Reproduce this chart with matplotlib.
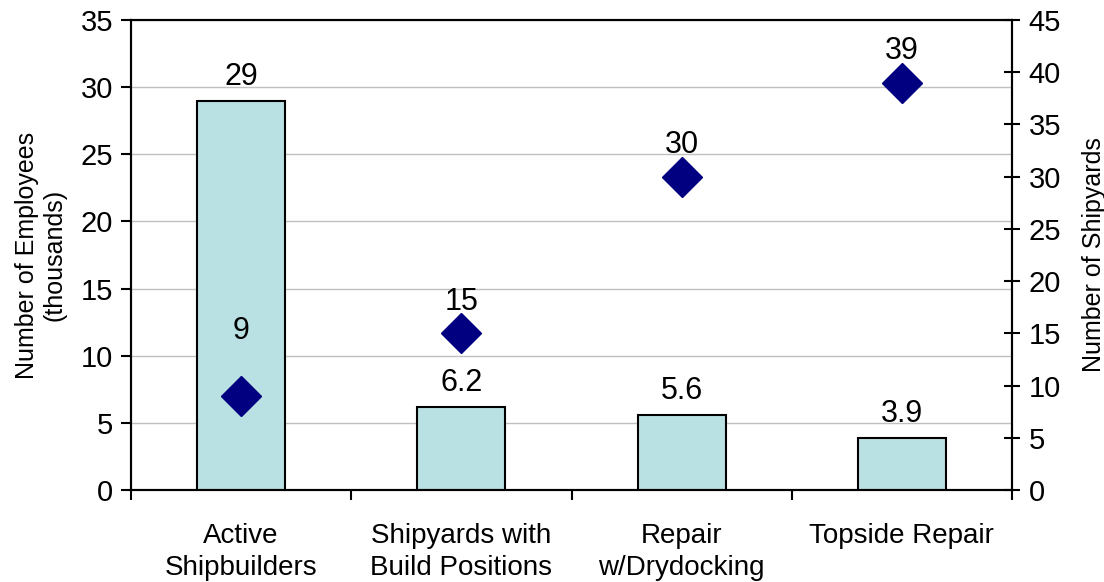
import matplotlib.pyplot as plt
import numpy as np

plt.rcParams['font.family'] = ['Liberation Sans', 'DejaVu Sans']

categories = ['Active\nShipbuilders', 'Shipyards with\nBuild Positions',
              'Repair\nw/Drydocking', 'Topside Repair']
employees = [29, 6.2, 5.6, 3.9]      # thousands, left axis
shipyards = [9, 15, 30, 39]          # count, right axis
emp_labels = ['29', '6.2', '5.6', '3.9']
yard_labels = ['9', '15', '30', '39']

fig = plt.figure(figsize=(11.04, 5.82), dpi=100)
ax = fig.add_axes([131/1104, 92/582, 881/1104, 470/582])
ax2 = ax.twinx()

x = np.arange(len(categories))
ax.bar(x, employees, width=0.4, color='#b9e0e3', edgecolor='black',
       linewidth=1.5, zorder=3)
for xi, v, lab in zip(x, employees, emp_labels):
    ax.annotate(lab, (xi, v), xytext=(0, 6), textcoords='offset points',
                ha='center', va='bottom', fontsize=22)

ax2.plot(x, shipyards, linestyle='none', marker='D', markersize=20,
         color='#000080', zorder=4)
for xi, v, lab in zip(x, shipyards, yard_labels):
    off = 36 if lab == '9' else 12
    ax2.annotate(lab, (xi, v), xytext=(0, off), textcoords='offset points',
                 ha='center', va='bottom', fontsize=22)

ax.set_xlim(-0.5, len(categories) - 0.5)
ax.set_ylim(0, 35)
ax.set_yticks(np.arange(0, 36, 5))
ax2.set_ylim(0, 45)
ax2.set_yticks(np.arange(0, 46, 5))

ax.yaxis.grid(True, color='#c0c0c0', linewidth=1)
ax.set_axisbelow(True)

ax.set_xticks(x)
ax.set_xticklabels(categories, fontsize=20, linespacing=1.3)
ax.set_xticks(np.arange(-0.5, len(categories), 1), minor=True)
ax.tick_params(axis='x', which='major', length=0, pad=24)
ax.tick_params(axis='x', which='minor', length=7, width=1.5, direction='out')
ax.tick_params(axis='y', labelsize=21, length=7, width=1.5, direction='out', pad=6)
ax2.tick_params(axis='y', labelsize=21, length=12, width=1.5, direction='inout', pad=6)

for a in (ax, ax2):
    for s in a.spines.values():
        s.set_linewidth(1.5)
        s.set_color('black')

ax.set_ylabel('Number of Employees\n(thousands)', fontsize=18, labelpad=10)
ax2.set_ylabel('Number of Shipyards', fontsize=18, labelpad=15)

fig.savefig('out.png', dpi=100)
